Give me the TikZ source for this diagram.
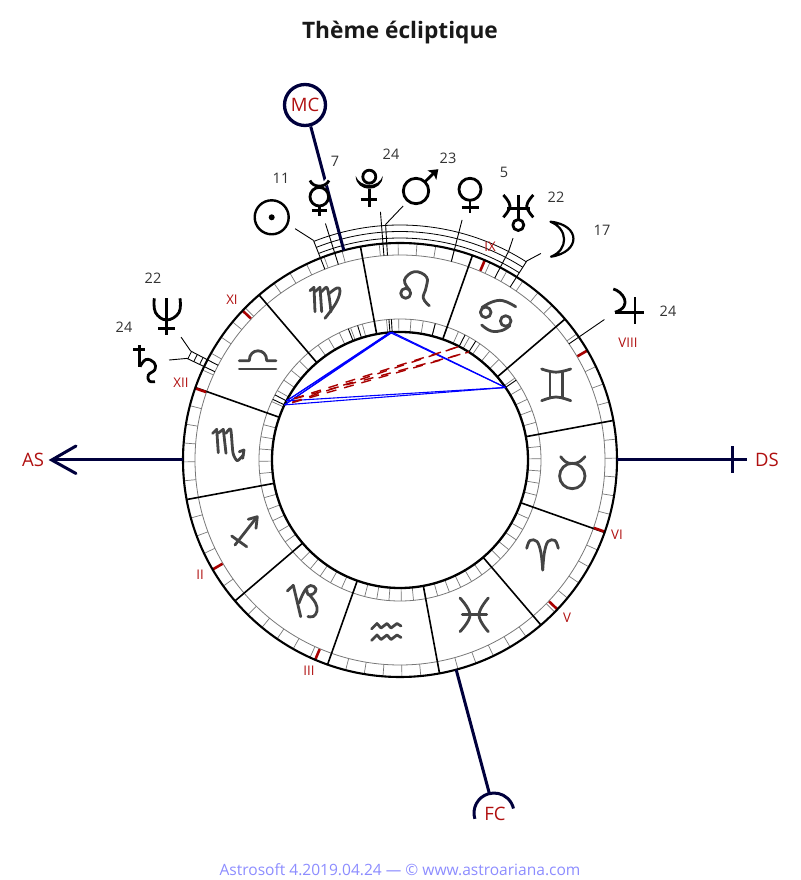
\documentclass[tikz,border=0pt]{standalone}
\usepackage{fontspec}
\setmainfont{Open Sans}
\definecolor{navyl}{HTML}{00003C}
\definecolor{redl}{HTML}{B01010}
\definecolor{cuspc}{HTML}{A80000}
\definecolor{zodc}{HTML}{444444}
\definecolor{footc}{HTML}{8C8CFF}
\definecolor{numc}{HTML}{333333}
\definecolor{tickc}{HTML}{777777}
\tikzset{
  zod/.style={draw=zodc,line width=2.8,line cap=round,line join=round,fill=none},
  pla/.style={draw=black,line width=2.8,line join=round,fill=none},
  num/.style={text=numc,font=\fontsize{14.5}{16}\selectfont,inner sep=0},
  cusp/.style={text=redl,font=\fontsize{13.3}{14}\selectfont,inner sep=0},
  ang/.style={text=redl,font=\fontsize{18.5}{20}\selectfont,inner sep=0},
  axis/.style={draw=navyl,line width=3},
  ptick/.style={draw=black,line width=.9},
  blueasp/.style={draw=blue,line width=1.1},
  redasp/.style={draw=cuspc,line width=1.4,dash pattern=on 10pt off 8pt,dash phase=10pt},
}
\begin{document}
\begin{tikzpicture}[x=1pt,y=1pt]
\useasboundingbox (-400,460) rectangle (400,-420);
% rings
\draw[tickc,line width=.8] (0,0) circle[radius=205];
\draw[tickc,line width=.8] (0,0) circle[radius=141];
\foreach \k in {0,...,71}{
  \pgfmathsetmacro\a{10.5+5*\k}
  \draw[tickc,line width=.7] (\a:205) -- (\a:217);
  \draw[tickc,line width=.7] (\a:128) -- (\a:141);
}
\foreach \k in {0,...,11}{
  \pgfmathsetmacro\a{10.5+30*\k}
  \draw[black,line width=1.6] (\a:128) -- (\a:217);
}
% cusps
\foreach \a in {30.3,67,136.5,160.7,210.3,247,316.5,340.7}{
  \draw[cuspc,line width=2.6] (\a:205.5) -- (\a:216.5);
}
\draw[black,line width=2.1] (0,0) circle[radius=217];
\draw[black,line width=2.3] (0,0) circle[radius=128];
% planet ticks
\foreach \a in {111.5,107.5,94.5,93.5,75.5,62.5,57.5,34.5,152.5,154.5}{
  \draw[ptick] (\a:128) -- (\a:141);
}
\foreach \a/\r in {107.5/248,94.5/249,75.5/248,34.5/248,62.5/235,111.5/236,93.5/236,57.5/236,152.5/236,154.5/236}{
  \draw[ptick] (\a:205) -- (\a:\r);
}
\draw[ptick] (111.5:236) -- (114.4:254);
\draw[ptick] (93.5:236) -- (89.3:254);
\draw[ptick] (62.5:235) -- (63:249);
\draw[ptick] (57.5:236) -- (55.7:250);
\draw[ptick] (152.5:236) -- (150.7:251);
\draw[ptick] (154.5:236) -- (156.6:251.7);
\foreach \r in {222,228.5,235}{
  \draw[ptick,line width=.8] (111.5:\r) arc[start angle=111.5,end angle=57.5,radius=\r];
  \draw[ptick,line width=.8] (154.5:\r) arc[start angle=154.5,end angle=152.5,radius=\r];
}
% aspects
\foreach \p in {93.5,94.5}{
  \foreach \q in {152.5,154.5}{\draw[blueasp] (\p:128) -- (\q:128);}
  \draw[blueasp] (\p:128) -- (34.5:128);
}
\foreach \q in {152.5,154.5}{
  \draw[blueasp] (34.5:128) -- (\q:128);
  \draw[redasp] (\q:128) -- (57.5:128);
  \draw[redasp] (\q:128) -- (62.5:128);
}
% angles
\coordinate (mcfoot) at (105:217);
\coordinate (fcfoot) at (285:217);
\coordinate (fctop) at (285:346);
\coordinate (asfoot) at (180:217);
\coordinate (dsfoot) at (0:217);
\begin{scope}[shift={(-400,460)},yscale=-1]
\node[draw=navyl,line width=3.3,circle,minimum size=41,inner sep=0,ang] (mc) at (305,105) {MC};
\draw[axis] (mc) -- (mcfoot);
\draw[draw=white,line width=5] (310,181) .. controls (314,188) and (325,188) .. (330,177);
\coordinate (astip) at (51.7,460);
\coordinate (dstip) at (746.5,460);
\draw[axis] (asfoot) -- (astip);
\draw[axis,line cap=round] (76,446) -- (astip) -- (76,473.5);
\draw[axis] (dsfoot) -- (dstip);
\draw[axis] (732.7,446.5) -- (732.7,473.5);
\node[ang] (as) at (33,459.5) {AS};
\node[ang] (ds) at (767,459.5) {DS};
\node[ang] (fc) at (495,814) {FC};
\end{scope}
\draw[axis] (fcfoot) -- (fctop);
\draw[axis] ([shift={(197:20)}]94,-353) arc[start angle=197,end angle=13,radius=20];
% everything below in pixel coordinates
\begin{scope}[shift={(-400,460)},yscale=-1]
% title, footer
\node[inner sep=0,font=\fontsize{22.7}{26}\selectfont\bfseries,text=black!90] (title) at (400,32.5) {Thème écliptique};
\node[inner sep=0,font=\fontsize{15.55}{17}\selectfont,text=footc] (foot) at (400,870) {Astrosoft 4.2019.04.24 — © www.astroariana.com};
% cusp labels
\node[cusp] (c9) at (490,247) {IX};
\node[cusp] (c11) at (232,300) {XI};
\node[cusp] (c12) at (181,383) {XII};
\node[cusp] (c2) at (200,575) {II};
\node[cusp] (c3) at (309,671) {III};
\node[cusp] (c5) at (567,618) {V};
\node[cusp] (c6) at (617,535) {VI};
\node[cusp] (c8) at (628,343) {VIII};
% degree labels
\node[num] (n1) at (281,178) {11};
\node[num] (n2) at (335,161) {7};
\node[num] (n3) at (391,154) {24};
\node[num] (n4) at (448,158) {23};
\node[num] (n5) at (504,172) {5};
\node[num] (n6) at (556,197) {22};
\node[num] (n7) at (602,230) {17};
\node[num] (n8) at (668,311) {24};
\node[num] (n9) at (153,278) {22};
\node[num] (n10) at (124,327) {24};
% ---- zodiac
% Leo
\draw[zod] (405.7,293.3) circle[radius=5];
\draw[zod] plot[smooth,tension=.7] coordinates {(409.5,290) (404.5,280) (414.5,271.7) (426.5,277) (426,288) (423.3,298) (429.3,305.7)};
% Cancer
\draw[zod] (485.7,312.3) circle[radius=5.3];
\draw[zod] (505.7,321) circle[radius=5.3];
\draw[zod] plot[smooth,tension=.7] coordinates {(482,307.5) (492,302) (503,300.7) (515.7,306.7)};
\draw[zod] plot[smooth,tension=.7] coordinates {(510,325.5) (502,330.5) (491,331) (481.7,325)};
% Gemini
\draw[zod] (550,371.7) -- (550,396.7) (562.3,371.7) -- (562.3,396.7);
\draw[zod] plot[smooth,tension=.7] coordinates {(541.7,369) (556,372.2) (570.7,369)};
\draw[zod] plot[smooth,tension=.7] coordinates {(541.7,400.7) (556,397) (570.7,400.7)};
% Taurus
\draw[zod] (572.3,476) circle[radius=12.7];
\draw[zod] plot[smooth,tension=.7] coordinates {(560.7,456.7) (566,462) (572.3,463.5) (579,462) (585,456.7)};
% Aries
\draw[zod] plot[smooth,tension=.6] coordinates {(526.7,548.3) (530,540.5) (537,541.5) (541,553) (542.7,570)};
\draw[zod] plot[smooth,tension=.6] coordinates {(558.3,548.3) (555,540.5) (548,541.5) (544.3,553) (542.7,570)};
% Pisces
\draw[zod] plot[smooth,tension=.7] coordinates {(460,598) (470,615) (460,631.7)};
\draw[zod] plot[smooth,tension=.7] coordinates {(488.3,598) (479,615) (488.3,631.7)};
\draw[zod] (462.3,614.3) -- (486.7,614.3);
% Aquarius
\foreach \d in {0,11.5}{
  \draw[zod,yshift=\d] (371.5,629) -- (377,623.5) -- (381,628) -- (387,623.5) -- (391,628) -- (397,623.5) -- (401,626);
}
% Capricorn
\draw[zod] (287.3,591) -- (293.3,585.3) -- (300.7,616.7);
\draw[zod] plot[smooth,tension=.7] coordinates {(299,603) (304.5,591) (310.5,585.5) (316,589) (313,594) (308,594.5) (307,590)};
\draw[zod] plot[smooth,tension=.7] coordinates {(309,594.5) (315.5,603) (317,611) (313.3,616.5) (308,616.5)};
% Sagittarius
\draw[zod] (235,545) -- (256.7,517.3);
\draw[zod] (248.3,519.3) -- (257.3,516.7) -- (256,528.3);
\draw[zod] (231.7,536) -- (246.7,546.7);
% Scorpio
\draw[zod] (212.7,433.3) -- (216.7,429.3) -- (218.3,452.7);
\draw[zod] (218,433.3) -- (223.3,429.3) -- (226,453.3);
\draw[zod] plot[smooth,tension=.4] coordinates {(226,433.3) (230.7,429.3) (233,453) (237.3,460.7) (243.3,455)};
\draw[zod] (239.3,451.7) -- (244,450) -- (242.7,458.3);
% Libra
\draw[zod] (239.3,369) -- (276,369);
\draw[zod] (239.3,360.7) -- (249.3,360.7) .. controls (249,347.5) and (267,347.5) .. (266.7,360.7) -- (276,360.7);
% Virgo
\draw[zod] (310,290.7) -- (314,287.3) -- (315,311.7);
\draw[zod] (315,291.7) -- (320,287.3) -- (321.7,311.7);
\draw[zod] plot[smooth,tension=.5] coordinates {(321.7,291.7) (326.7,287.3) (329,296) (331,311.7)};
\draw[zod] plot[smooth,tension=.7] coordinates {(328.5,294) (337,288) (340,291) (336,303) (325,318.3)};
% ---- planets
% Sun
\draw[pla,line width=2.4] (271.7,217.3) circle[radius=17];
\fill[black] (271.7,217.3) circle[radius=3];
% Mercury
\draw[pla] (319.3,196.7) circle[radius=9.3];
\draw[pla] (310,180.5) .. controls (313,188) and (325.5,188) .. (329,180.5);
\draw[pla] (319.3,206) -- (319.3,216) (311.7,210.7) -- (327.3,210.7);
% Pluto
\draw[pla] (369.3,176.7) circle[radius=6.5];
\fill[black] (355.7,176) .. controls (356,193) and (382.5,193) .. (382.7,176) .. controls (379,188) and (360,188) .. (355.7,176) -- cycle;
\draw[pla] (369.3,189) -- (369.3,206.7) (360.7,199.3) -- (377.3,199.3);
% Mars
\draw[pla] (416,191) circle[radius=12.7];
\draw[pla] (425,181.7) -- (435.5,171.5);
\fill[black] (427.5,170.5) -- (438.3,169.2) -- (436.3,180) -- (433.5,174) -- cycle;
% Venus
\draw[pla] (470,189.3) circle[radius=11];
\draw[pla] (470,200.3) -- (470,212.7) (461.7,207.7) -- (479.3,207.7);
% Uranus
\draw[pla] (518.3,195) -- (518.3,219.5);
\draw[pla] (518.3,225) circle[radius=5.5];
\draw[pla] (507,208.3) -- (530,208.3);
\draw[pla] plot[smooth,tension=.7] coordinates {(503.3,195) (510,206) (503.3,217.3)};
\draw[pla] plot[smooth,tension=.7] coordinates {(533.3,195) (526.7,206) (533.3,217.3)};
% Moon
\draw[draw=black,line width=2.2,fill=white,line join=round] (550.5,221.7) .. controls (581,225) and (581,252) .. (551,256.7) .. controls (568.5,250) and (568.5,229) .. (550.5,221.7) -- cycle;
% Jupiter
\draw[pla] (635,297.3) -- (635,324);
\draw[pla] (615,312.3) -- (644,312.3);
\draw[pla] (613.3,289) .. controls (622,291) and (634,306) .. (615,312.3);
% Saturn
\draw[pla] (139.3,345) -- (139.3,367.3) (133.3,349.3) -- (145,349.3);
\draw[pla] plot[smooth,tension=.7] coordinates {(140,366.7) (146,359.5) (154,362.5) (155,369.5) (148.3,375) (149.3,381) (155,381.7)};
% Neptune
\draw[pla] (166.7,298.3) -- (166.7,335) (158.3,328.3) -- (175,328.3);
\draw[pla] plot[smooth,tension=.7] coordinates {(154.3,298.3) (155.5,312.5) (166.7,320) (179,312.5) (180,298.3)};
\end{scope}
\end{tikzpicture}
\end{document}
